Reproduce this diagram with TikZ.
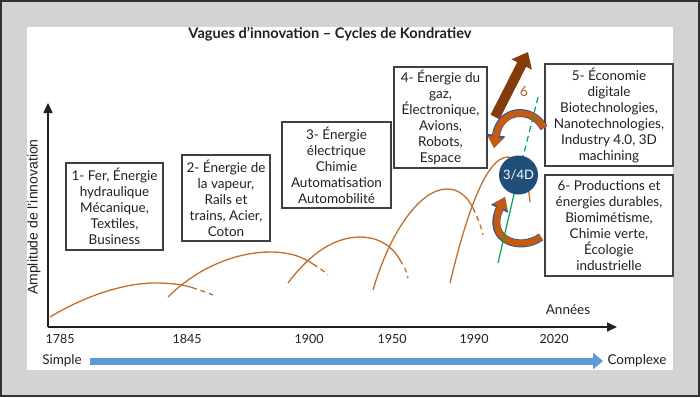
\documentclass[tikz,border=0pt]{standalone}
\usepackage{fontspec}
\setmainfont{Lato}
\newfontfamily\helv{Liberation Sans}
\usetikzlibrary{arrows.meta}
\definecolor{bggray}{RGB}{209,211,212}
\definecolor{framec}{RGB}{50,50,50}
\definecolor{boxc}{RGB}{64,64,64}
\definecolor{txt}{RGB}{35,31,32}
\definecolor{curvec}{RGB}{192,112,46}
\definecolor{navy}{RGB}{31,78,121}
\definecolor{barblue}{RGB}{91,155,213}
\definecolor{brownc}{RGB}{132,60,12}
\definecolor{orng}{RGB}{197,90,17}
\definecolor{outl}{RGB}{47,85,151}
\definecolor{greenc}{RGB}{0,166,81}
\definecolor{sixc}{RGB}{185,90,45}
\begin{document}
\begin{tikzpicture}[x=1pt,y=-1pt,
  box/.style={draw=boxc, line width=1.1pt, fill=white, align=center, inner sep=0pt, text=txt, font=\fontsize{13.5}{16}\selectfont},
  wave/.style={draw=curvec, line width=1.3pt},
  wavedash/.style={wave, dash pattern=on 5pt off 4pt},
  lbl/.style={text=txt, font=\fontsize{13.5}{16}\selectfont, inner sep=0pt},
  tick/.style={text=txt, font=\fontsize{12.5}{15}\selectfont, inner sep=0pt},
  axisline/.style={draw=txt, line width=1.5pt, -{Triangle[width=9pt,length=10pt]}},
  bararrow/.style={draw=barblue, line width=7pt, -{Triangle[width=16pt,length=10pt]}},
  bigarrow/.style={draw=brownc, line width=10pt, -{Triangle[width=22pt,length=14pt]}},
  curlout/.style={draw=outl, line width=8pt, -{Triangle[width=18pt,length=13pt]}},
  curlin/.style={draw=orng, line width=6.4pt, -{Triangle[width=15.5pt,length=11.2pt]}},
]
\useasboundingbox (0,0) rectangle (700,397);
% frame and panel
\draw[fill=bggray, draw=framec, line width=2pt] (1,1) rectangle (699,396);
\fill[white] (27,27) rectangle (673,370);

% title
\node[text=txt, font=\fontsize{14.6}{17}\selectfont\bfseries, inner sep=0pt] (title) at (330,34) {Vagues d’innovation – Cycles de Kondratiev};

% axes
\coordinate (O) at (48,327);
\coordinate (ytop) at (48,103);
\coordinate (xend) at (617,327);
\draw[axisline] (O) -- (ytop);
\draw[axisline] (O) -- (xend);
\node[text=txt, font=\helv\fontsize{14}{16}\selectfont, rotate=90, inner sep=0pt] (ylab) at (34,217) {Amplitude de l’innovation};
\node[lbl] (annees) at (568,310) {Années};

% ticks
\node[tick] (t1) at (60,339) {1785};
\node[tick] (t2) at (187,339) {1845};
\node[tick] (t3) at (309,339) {1900};
\node[tick] (t4) at (392,339) {1950};
\node[tick] (t5) at (474,339) {1990};
\node[tick] (t6) at (554,339) {2020};

% simple -> complexe
\node[lbl] (simple) at (62,361) {Simple};
\node[lbl] (complexe) at (637,361) {Complexe};
\coordinate (bs) at (90,361);
\coordinate (be) at (603,361);
\draw[bararrow] (bs) -- (be);

% waves
\draw[wave] (50,317) .. controls (95,290) and (135,282) .. (160,283) .. controls (175,283.5) and (184,285) .. (192,287.5);
\draw[wavedash] (192,287.5) .. controls (199,290) and (206,292) .. (213,295);
\draw[wave] (168,297) .. controls (200,265) and (240,252) .. (270,252) .. controls (290,252) and (303,257) .. (313,264);
\draw[wavedash] (313,264) .. controls (319,268) and (324,271) .. (328,275);
\draw[wave] (288,283) .. controls (305,260) and (330,237) .. (360,237) .. controls (380,237) and (394,248) .. (400,260);
\draw[wavedash] (400,260) .. controls (404,266) and (407,272) .. (408,278);
\draw[wave] (373,290) .. controls (390,232) and (420,189) .. (447,189) .. controls (460,189) and (468,198) .. (473,208);
\draw[wavedash] (473,208) .. controls (478,218) and (481,227) .. (483,235);
\draw[wave] (450,283) .. controls (465,220) and (485,157) .. (508,157) .. controls (521,157) and (528,180) .. (530,202);

% boxes
\node[box, minimum width=97pt, minimum height=87pt] (b1) at (114.5,206.5) {1- Fer, Énergie\\hydraulique\\Mécanique,\\Textiles,\\Business};
\node[box, minimum width=88pt, minimum height=86pt] (b2) at (226,198) {2- Énergie de\\la vapeur,\\Rails et\\trains, Acier,\\Coton};
\node[box, minimum width=109pt, minimum height=86pt] (b3) at (336.5,165) {3- Énergie\\électrique\\Chimie\\Automatisation\\Automobilité};
\node[box, minimum width=93pt, minimum height=101pt] (b4) at (440.5,117.5) {4- Énergie du\\gaz,\\Électronique,\\Avions,\\Robots,\\Espace};
\node[box, minimum width=128pt, minimum height=102pt] (b5) at (609,115) {5- Économie\\digitale\\Biotechnologies,\\Nanotechnologies,\\Industry 4.0, 3D\\machining};
\node[box, minimum width=128pt, minimum height=101pt] (b6) at (609,225.5) {6- Productions et\\énergies durables,\\Biomimétisme,\\Chimie verte,\\Écologie\\industrielle};

% big brown arrow and label 6
\coordinate (ba1) at (495,117);
\coordinate (ba2) at (528,52);
\draw[bigarrow] (ba1) -- (ba2);
\node[text=sixc, font=\fontsize{14}{16}\selectfont, inner sep=0pt] (six) at (524,92) {6};

% curved arrows
\coordinate (u1) at (544,128);
\coordinate (u2) at (494,148);
\coordinate (l1) at (541,237);
\coordinate (l2) at (505,197);
\draw[curlout] (u1) .. controls (532,106) and (500,108) .. (u2);
\draw[curlin] (u1) .. controls (532,106) and (500,108) .. (u2);
\draw[curlout] (l1) .. controls (520,252) and (485,240) .. (l2);
\draw[curlin] (l1) .. controls (520,252) and (485,240) .. (l2);

% green line and circle
\coordinate (cc) at (518.5,175);
\coordinate (g1) at (538,97);
\coordinate (g2) at (498,263);
\draw[greenc, line width=1.2pt, dash pattern=on 6pt off 4pt] (g1) -- (cc);
\draw[greenc, line width=1.2pt] (cc) -- (g2);
\node[circle, fill=navy, minimum size=39pt, inner sep=0pt, text=white, font=\fontsize{13}{15}\selectfont] (c4d) at (cc) {3/4D};
\end{tikzpicture}
\end{document}
